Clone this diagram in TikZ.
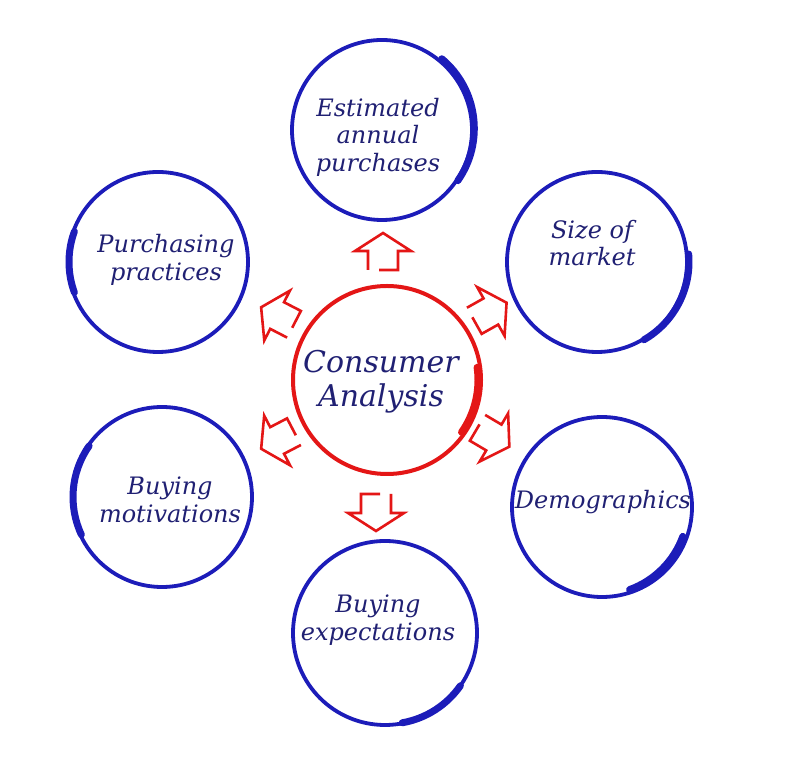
\documentclass[tikz,border=0pt]{standalone}
\usepackage{fontspec}
\setmainfont{DejaVu Serif}
\usepackage{tikz}
\definecolor{ringblue}{RGB}{28,28,185}
\definecolor{ringred}{RGB}{228,22,22}
\definecolor{inknavy}{RGB}{32,32,115}
\tikzset{
  ring/.style={draw=ringblue, line width=3.8pt},
  ringbrush/.style={draw=ringblue, line width=7pt, line cap=round},
  redring/.style={draw=ringred, line width=4pt},
  redbrush/.style={draw=ringred, line width=7pt, line cap=round},
  outline arrow/.style={draw=ringred, line width=2.6pt, line join=miter},
  label/.style={text=inknavy, align=center, font=\itshape\fontsize{24}{27.5}\selectfont},
  biglabel/.style={text=inknavy, align=center, font=\itshape\fontsize{30}{34}\selectfont}
}
\newcommand\outarrow[3]{%
  \draw[outline arrow, shift={(#1,#2)}, rotate=#3]
    (-4,-18) -- (15,-18) -- (15,1) -- (28,1) -- (0,19) -- (-28,1) -- (-15,1) -- (-15,-18);}
\begin{document}
\begin{tikzpicture}[x=1pt,y=1pt]
\useasboundingbox[fill=white] (0,0) rectangle (800,781);

% centre
\coordinate (cC) at (387,401);
\draw[redring] (cC) circle (94);
\draw[redbrush] ([shift={(8:91)}]cC) arc (8:-35:91);

% outer circles
\coordinate (cT) at (382,651);
\coordinate (cUR) at (597,519);
\coordinate (cLR) at (602,274);
\coordinate (cB) at (385,148);
\coordinate (cLL) at (162,284);
\coordinate (cUL) at (158,519);

\draw[ring] (cT) circle (90);
\draw[ringbrush] ([shift={(50:93)}]cT) arc (50:-35:91);
\draw[ring] (cUR) circle (90);
\draw[ringbrush] ([shift={(5:92)}]cUR) arc (5:-60:90);
\draw[ring] (cLR) circle (90);
\draw[ringbrush] ([shift={(-20:86)}]cLR) arc (-20:-70:89);
\draw[ring] (cB) circle (92);
\draw[ringbrush] ([shift={(-35:92)}]cB) arc (-35:-80:90);
\draw[ring] (cLL) circle (90);
\draw[ringbrush] ([shift={(145:89)}]cLL) arc (145:205:89);
\draw[ring] (cUL) circle (90);
\draw[ringbrush] ([shift={(160:89)}]cUL) arc (160:200:89);

% arrows
\outarrow{383}{529}{0}
\outarrow{278}{465}{62.7}
\outarrow{490}{469}{-60.7}
\outarrow{493}{344}{-120.6}
\outarrow{278}{341}{117.5}
\outarrow{376}{269}{180}

% labels
\node[biglabel] (tC) at (381,399) {Consumer\\Analysis};
\node[label] (tT) at (378,644) {Estimated\\annual\\purchases};
\node[label] (tUR) at (592,538) {Size of\\market};
\node[label] (tUL) at (166,521) {Purchasing\\practices};
\node[label] (tLL) at (170,281) {Buying\\motivations};
\node[label] (tLR) at (603,279) {Demographics};
\node[label] (tB) at (378,161) {Buying\\expectations};
\end{tikzpicture}
\end{document}
